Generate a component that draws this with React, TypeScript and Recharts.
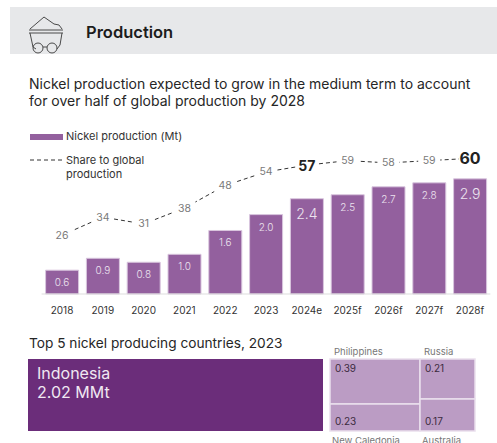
import { Bar, ComposedChart, LabelList, Line, Treemap, XAxis, YAxis } from 'recharts';

const FONT = 'Inter, "Noto Sans", sans-serif';
const BAR_COLOR = '#93609e';
const LARGE_TILE = '#6b2d7a';
const SMALL_TILE = '#bb9cc4';
const TILE_EDGE = '#eadfed';

const years = ['2018', '2019', '2020', '2021', '2022', '2023', '2024e', '2025f', '2026f', '2027f', '2028f'];
const production = [0.6, 0.9, 0.8, 1.0, 1.6, 2.0, 2.4, 2.5, 2.7, 2.8, 2.9];
const globalShare = [26, 34, 31, 38, 48, 54, 57, 59, 58, 59, 60];
const emphasisedYears = ['2024e', '2028f'];

const rows = years.map((year, i) => ({ year, production: production[i], share: globalShare[i] }));

const leaderCountry = [{ name: 'Indonesia', value: 2.02 }];
const firstColumn = [
  { name: 'Philippines', value: 0.39 },
  { name: 'New Caledonia', value: 0.23 },
];
const secondColumn = [
  { name: 'Russia', value: 0.21 },
  { name: 'Australia', value: 0.17 },
];

function BarValue(props: any) {
  const { x, y, width, value, index } = props;
  const big = emphasisedYears.includes(years[index]);
  return (
    <text
      x={x + width / 2}
      y={y + (big ? 15 : 12)}
      textAnchor="middle"
      dominantBaseline="central"
      fontSize={big ? 14 : 10}
      fontWeight={300}
      fill="#ece3ef"
    >
      {Number(value).toFixed(1)}
    </text>
  );
}

function ShareValue(props: any) {
  const { x, y, value, index } = props;
  const big = emphasisedYears.includes(years[index]);
  const size = index === years.length - 1 ? 16 : big ? 14 : 10.5;
  return (
    <g>
      <rect x={x - 11} y={y - 10} width={22} height={20} fill="#fff" />
      <text
        x={x}
        y={y}
        textAnchor="middle"
        dominantBaseline="central"
        fontSize={size}
        fontWeight={big ? 700 : 400}
        fill={big ? '#222' : '#7a7a7a'}
      >
        {value}
      </text>
    </g>
  );
}

function LeaderTile(props: any) {
  const { x, y, width, height, name, value, children } = props;
  if (children && children.length) return null;
  return (
    <g fontFamily={FONT}>
      <rect x={x} y={y} width={width} height={height} fill={LARGE_TILE} />
      <text x={x + 9} y={y + 20} fontSize={16} fill="#f0e8f2">{name}</text>
      <text x={x + 9} y={y + 39} fontSize={16} fill="#f0e8f2">{value} MMt</text>
    </g>
  );
}

function SmallTile(props: any) {
  const { x, y, width, height, name, value, children, index } = props;
  if (children && children.length) return null;
  const atTop = index === 0;
  return (
    <g fontFamily={FONT}>
      <rect x={x} y={y} width={width} height={height} fill={SMALL_TILE} stroke={TILE_EDGE} strokeWidth={1.5} />
      <text
        x={x + 5}
        y={atTop ? y + 9 : y + height - 10}
        dominantBaseline="central"
        fontSize={10}
        fill="#3b2b40"
      >
        {Number(value).toFixed(2)}
      </text>
      <text
        x={x + (atTop ? 4 : 2)}
        y={atTop ? y - 8 : y + height + 9}
        dominantBaseline="central"
        fontSize={9.5}
        fill="#777"
      >
        {name}
      </text>
    </g>
  );
}

function CartIcon() {
  return (
    <svg width={40} height={44} viewBox="0 0 40 44" style={{ position: 'absolute', left: 26, top: 12 }} fill="none" stroke="#4a4a4a" strokeWidth={1}>
      <path d="M4 17 L18 5 L28 12 L33 13 L36 17" />
      <path d="M3 18 H37" />
      <path d="M3 21 H37" />
      <path d="M4 21 L7 35 L10 37 M31 37 L34 33 L36 21" />
      <circle cx={12} cy={36} r={5} />
      <circle cx={26} cy={36} r={5} />
      <path d="M17 35 H21" />
    </svg>
  );
}

const textAt = (left: number, top: number, size: number, color: string, weight = 400) =>
  ({
    position: 'absolute',
    left,
    top,
    fontSize: size,
    lineHeight: 1,
    color,
    fontWeight: weight,
    whiteSpace: 'nowrap',
  }) as const;

export default function App() {
  return (
    <div
      style={{
        position: 'absolute',
        left: 0,
        top: 0,
        width: 497,
        height: 443,
        overflow: 'hidden',
        background: '#fff',
        fontFamily: FONT,
      }}
    >
      <style>{'.tiles svg { overflow: visible; }'}</style>

      <div style={{ position: 'absolute', left: 10, top: 7, width: 487, height: 47, background: '#e7e8ea' }} />
      <CartIcon />
      <div style={textAt(86, 24, 16.5, '#1c1c1c', 600)}>Production</div>

      <div style={textAt(29, 77, 14, '#262626')}>Nickel production expected to grow in the medium term to account</div>
      <div style={textAt(29, 94, 14, '#262626')}>for over half of global production by 2028</div>

      {/* legend */}
      <div style={{ position: 'absolute', left: 30, top: 134, width: 33, height: 6, background: BAR_COLOR }} />
      <div style={textAt(66, 131, 11, '#333')}>Nickel production (Mt)</div>
      <svg width={34} height={3} style={{ position: 'absolute', left: 30, top: 159 }}>
        <line x1={0} y1={1} x2={34} y2={1} stroke="#333" strokeDasharray="4 3" />
      </svg>
      <div style={textAt(66, 155, 11, '#333')}>Share to global</div>
      <div style={textAt(66, 169, 11, '#333')}>production</div>

      <div style={{ position: 'absolute', left: 0, top: 140 }}>
        <ComposedChart
          width={497}
          height={180}
          data={rows}
          margin={{ top: 10, right: 6.6, bottom: 0, left: 41.6 }}
          style={{ fontFamily: FONT }}
        >
          <XAxis
            dataKey="year"
            height={26}
            interval={0}
            tickLine={false}
            tickMargin={7}
            axisLine={{ stroke: '#dddddd' }}
            tick={{ fill: '#333', fontSize: 10 }}
          />
          <YAxis yAxisId="mt" hide domain={[0, 3.627]} />
          <YAxis yAxisId="share" hide orientation="right" domain={[0, 63.7]} />
          <Bar yAxisId="mt" dataKey="production" barSize={33} fill={BAR_COLOR} stroke="#d9c6de" isAnimationActive={false}>
            <LabelList dataKey="production" content={BarValue} />
          </Bar>
          <Line
            yAxisId="share"
            dataKey="share"
            stroke="#333"
            strokeWidth={1}
            strokeDasharray="4 3"
            dot={false}
            isAnimationActive={false}
          >
            <LabelList dataKey="share" content={ShareValue} />
          </Line>
        </ComposedChart>
      </div>

      <div style={textAt(29, 337, 13.7, '#262626')}>Top 5 nickel producing countries, 2023</div>

      <div className="tiles" style={{ position: 'absolute', left: 28, top: 359 }}>
        <Treemap
          width={295}
          height={72}
          data={leaderCountry}
          dataKey="value"
          type="flat"
          isAnimationActive={false}
          content={<LeaderTile />}
        />
      </div>
      {/* the two smaller columns stack differently, so each gets its own aspect ratio */}
      <div className="tiles" style={{ position: 'absolute', left: 330, top: 359 }}>
        <Treemap
          width={90}
          height={72}
          data={firstColumn}
          dataKey="value"
          type="flat"
          aspectRatio={2}
          isAnimationActive={false}
          content={<SmallTile />}
        />
      </div>
      <div className="tiles" style={{ position: 'absolute', left: 420, top: 359 }}>
        <Treemap
          width={55}
          height={72}
          data={secondColumn}
          dataKey="value"
          type="flat"
          aspectRatio={1}
          isAnimationActive={false}
          content={<SmallTile />}
        />
      </div>
    </div>
  );
}
